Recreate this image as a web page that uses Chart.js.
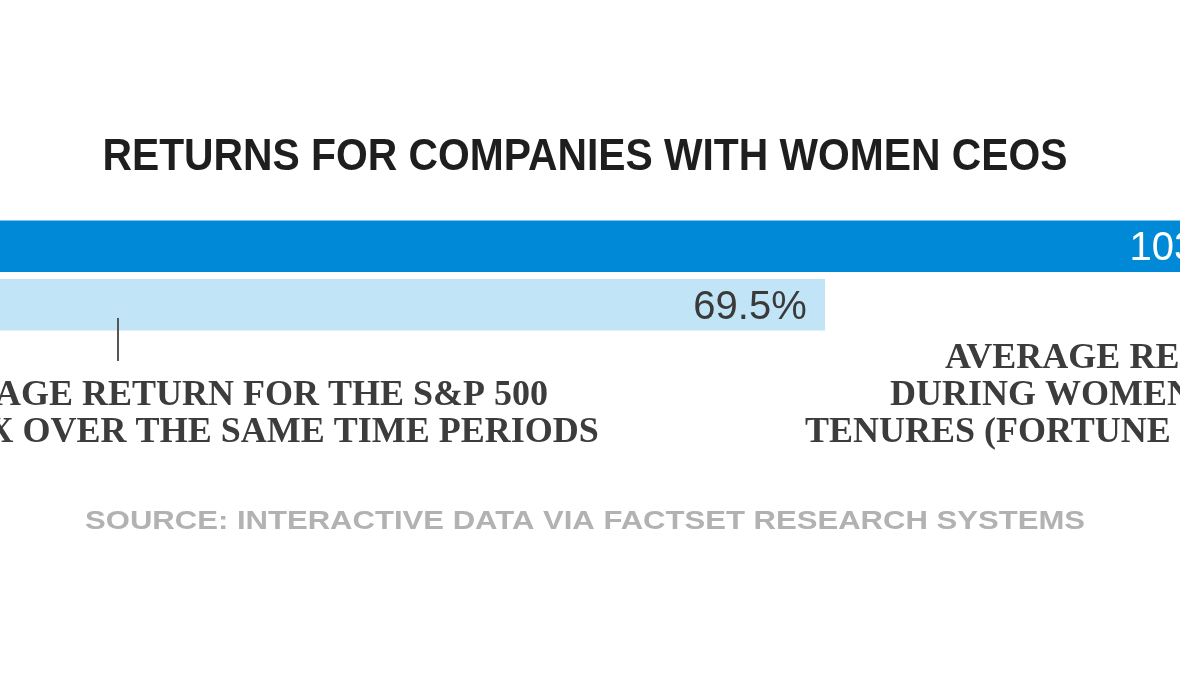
<!DOCTYPE html>
<html>
<head>
<meta charset="utf-8">
<script src="https://cdn.jsdelivr.net/npm/chart.js@4"></script>
<style>
  html, body { margin: 0; padding: 0; background: #fff; overflow: hidden; }
  #wrap { position: relative; width: 1180px; height: 677px; }
</style>
</head>
<body>
<div id="wrap"><canvas id="myChart"></canvas></div>
<script>
const categories = ['Women CEO tenures (Fortune 500)', 'S&P 500 index'];
const returns = [103, 69.5];
const valueLabels = returns.map(v => `${v}%`);

const title = 'RETURNS FOR COMPANIES WITH WOMEN CEOS';
const source = 'SOURCE: INTERACTIVE DATA VIA FACTSET RESEARCH SYSTEMS';
const noteIndex = ['AVERAGE RETURN FOR THE S&P 500', 'INDEX OVER THE SAME TIME PERIODS'];
const noteWomen = ['AVERAGE RETURN', 'DURING WOMEN CEOS\'', 'TENURES (FORTUNE 500)'];

const chart = document.querySelector('#myChart');

// draw text squeezed or stretched to a given width, centred on cx
const fitText = (ctx, text, cx, y, width) => {
    const w = ctx.measureText(text).width;
    ctx.save();
    ctx.translate(cx, y);
    ctx.scale(width / w, 1);
    ctx.textAlign = 'center';
    ctx.fillText(text, 0, 0);
    ctx.restore();
};

const valueLabelPlugin = {
    id: 'valueLabels',
    afterDatasetsDraw(c) {
        const ctx = c.ctx;
        const meta = c.getDatasetMeta(0);
        ctx.save();
        ctx.font = '40px "Liberation Sans", Arial, sans-serif';
        ctx.textAlign = 'right';
        ctx.textBaseline = 'alphabetic';
        meta.data.forEach((bar, i) => {
            ctx.fillStyle = i === 0 ? '#ffffff' : '#3a3a3a';
            ctx.fillText(valueLabels[i], bar.x - 18, bar.y + 14);
        });
        ctx.restore();
    }
};

const textPlugin = {
    id: 'texts',
    afterDraw(c) {
        const ctx = c.ctx;
        ctx.save();
        ctx.textBaseline = 'alphabetic';

        // title
        ctx.fillStyle = '#1e1e1e';
        ctx.font = 'bold 45px "Liberation Sans", Arial, sans-serif';
        fitText(ctx, title, 585, 170, 965);

        // pointer to the S&P bar
        ctx.strokeStyle = '#555';
        ctx.lineWidth = 2;
        ctx.beginPath();
        ctx.moveTo(118, 318);
        ctx.lineTo(118, 361);
        ctx.stroke();

        // notes under the bars
        ctx.fillStyle = '#3c3c3c';
        ctx.font = 'bold 36px "Liberation Serif", "Times New Roman", serif';
        ctx.textAlign = 'left';
        const left = 548 - ctx.measureText(noteIndex[0]).width;
        ctx.fillText(noteIndex[0], left, 405);
        ctx.fillText(noteIndex[1], left, 442);

        const starts = [945, 890, 805];
        noteWomen.forEach((line, i) => ctx.fillText(line, starts[i], 368 + i * 37));

        // source
        ctx.fillStyle = '#b2b2b2';
        ctx.font = 'bold 26px "Liberation Sans", Arial, sans-serif';
        fitText(ctx, source, 585, 529, 1000);
        ctx.restore();
    }
};

window.chart = new Chart(chart, {
    type: 'bar',
    data: {
        labels: categories,
        datasets: [{
            data: returns,
            backgroundColor: ['#0089d7', '#c2e4f7'],
            borderWidth: 0,
            barThickness: 51
        }]
    },
    options: {
        indexAxis: 'y',
        responsive: true,
        maintainAspectRatio: false,
        animation: false,
        layout: { padding: { top: 217, bottom: 343, left: 0, right: 0 } },
        scales: {
            x: { display: false, min: 4.5, max: 97.5 },
            y: { display: false }
        },
        plugins: {
            legend: { display: false },
            tooltip: { enabled: false }
        }
    },
    plugins: [valueLabelPlugin, textPlugin]
});
</script>
</body>
</html>
